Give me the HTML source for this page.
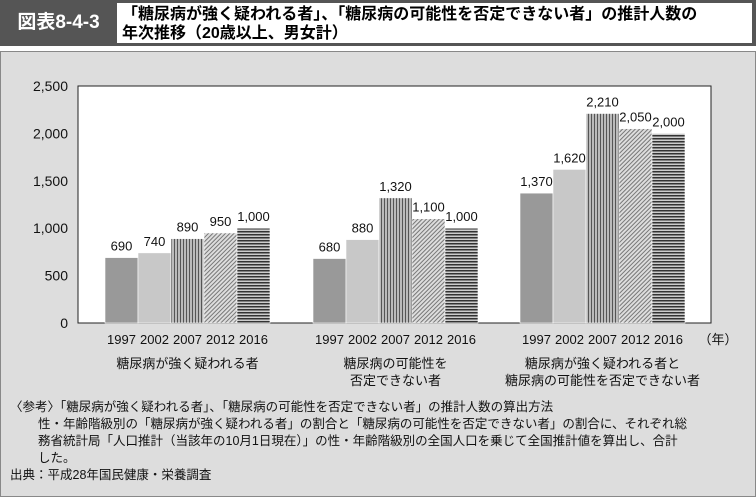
<!DOCTYPE html>
<html><head><meta charset="utf-8"><style>
body{margin:0;width:756px;height:497px;overflow:hidden;background:#fff;font-family:"Liberation Sans","Noto Sans CJK JP",sans-serif;}
#hdr{position:absolute;left:0;top:0;width:756px;height:46px;background:#555;}
#lbl{position:absolute;left:0;top:0;width:117px;height:46px;color:#fff;font-size:19px;font-weight:bold;line-height:46px;text-align:center;}
#ttl{position:absolute;left:117px;top:3px;width:635px;height:40px;background:#fff;font-size:16px;font-weight:bold;line-height:19px;padding-left:5px;box-sizing:border-box;padding-top:2px;}
#panel{position:absolute;left:0;top:51px;width:754px;height:444px;background:#ddd;border:1px solid #888;}
#notes{position:absolute;left:10px;top:399px;font-size:12.5px;line-height:17px;color:#111;}
</style></head><body>
<div id="hdr"></div>
<div id="lbl">図表8-4-3</div>
<div id="ttl">「糖尿病が強く疑われる者」、「糖尿病の可能性を否定できない者」の推計人数の<br>年次推移（20歳以上、男女計）</div>
<div id="panel"></div>
<svg id="chart" width="756" height="497" style="position:absolute;left:0;top:0">
<defs>
<pattern id="pv" width="3" height="4" patternUnits="userSpaceOnUse"><rect width="3" height="4" fill="#bbb"/><rect width="1" height="4" fill="#555"/></pattern>
<pattern id="pd" width="3" height="3" patternUnits="userSpaceOnUse" patternTransform="rotate(45)"><rect width="3" height="3" fill="#ddd"/><rect width="1" height="3" fill="#777"/></pattern>
<pattern id="ph" width="4" height="3" patternUnits="userSpaceOnUse"><rect width="4" height="3" fill="#ccc"/><rect width="4" height="1.5" fill="#333"/></pattern>
</defs>
<rect x="78" y="86" width="633" height="237" fill="#fff" stroke="#222" stroke-width="1"/>
<g id="g"></g>
</svg>
<div id="notes">〈参考〉「糖尿病が強く疑われる者」、「糖尿病の可能性を否定できない者」の推計人数の算出方法<br>
<span style="padding-left:28px">性・年齢階級別の「糖尿病が強く疑われる者」の割合と「糖尿病の可能性を否定できない者」の割合に、それぞれ総</span><br>
<span style="padding-left:28px">務省統計局「人口推計（当該年の10月1日現在）」の性・年齢階級別の全国人口を乗じて全国推計値を算出し、合計</span><br>
<span style="padding-left:28px">した。</span><br>出典：平成28年国民健康・栄養調査</div>
<script>
const years=["1997","2002","2007","2012","2016"];
const groups=["糖尿病が強く疑われる者","糖尿病の可能性を|否定できない者","糖尿病が強く疑われる者と|糖尿病の可能性を否定できない者"];
const strong=[690,740,890,950,1000];
const possible=[680,880,1320,1100,1000];
const total=[1370,1620,2210,2050,2000];
const yTicks=[0,500,1000,1500,2000,2500];
const series=[strong,possible,total];
const fills=["#999","#c8c8c8","url(#pv)","url(#pd)","url(#ph)"];
const NS="http://www.w3.org/2000/svg";
const g=document.getElementById('g');
const y0=323,yTop=86,yMax=2500;
const yS=v=>y0-(v/yMax)*(y0-yTop);
const gx=[105,313,520],bw=33;
function mk(t,a,txt){const e=document.createElementNS(NS,t);for(const k in a)e.setAttribute(k,a[k]);if(txt!=null)e.textContent=txt;g.appendChild(e);return e;}
yTicks.forEach(v=>{
 const t=mk('text',{x:68,y:yS(v)+5,'text-anchor':'end','font-size':14,fill:'#111'},v.toLocaleString('en-US'));
 
 
});
series.forEach((s,gi)=>{
 s.forEach((v,i)=>{
  const x=gx[gi]+i*bw;
  const r=mk('rect',{x:x,y:yS(v),width:bw,height:y0-yS(v),fill:fills[i],stroke:'#fff','stroke-width':0.6});
  
  
  const l=mk('text',{x:x+bw/2,y:yS(v)-7,'text-anchor':'middle','font-size':13,fill:'#111'},v.toLocaleString('en-US'));
  
  
  const yl=mk('text',{x:x+bw/2,y:344,'text-anchor':'middle','font-size':13,fill:'#111'},years[i]);
  
  
 });
 groups[gi].split('|').forEach((ln,j)=>{
  const c=mk('text',{x:gx[gi]+bw*2.5,y:368+j*17,'text-anchor':'middle','font-size':13,fill:'#111'},ln);
  
  
 });
});
const u=mk('text',{x:718,y:344,'text-anchor':'middle','font-size':13,fill:'#111'},'（年）');


</script>
</body></html>
